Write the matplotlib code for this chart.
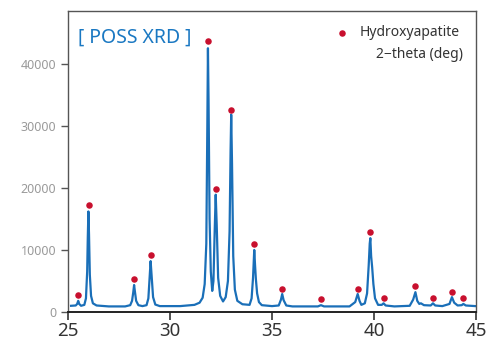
import matplotlib.pyplot as plt

plt.rcParams['font.family'] = ['Noto Sans', 'DejaVu Sans']

# XRD profile (2-theta in deg, intensity)
theta = [25.15, 25.38, 25.45, 25.50, 25.55, 25.64, 25.80, 25.88, 25.94, 25.97,
         26.00, 26.03, 26.07, 26.13, 26.22, 26.40, 27.00, 27.80, 28.05, 28.14,
         28.20, 28.24, 28.28, 28.34, 28.45, 28.65, 28.85, 28.94, 29.00, 29.05,
         29.10, 29.17, 29.28, 29.50, 30.50, 31.20, 31.45, 31.60, 31.70, 31.78,
         31.83, 31.86, 31.89, 31.94, 32.00, 32.07, 32.13, 32.19, 32.24, 32.29,
         32.36, 32.46, 32.60, 32.73, 32.84, 32.92, 32.97, 33.00, 33.04, 33.10,
         33.18, 33.30, 33.55, 33.90, 34.00, 34.07, 34.13, 34.17, 34.21, 34.27,
         34.36, 34.50, 35.00, 35.33, 35.44, 35.50, 35.57, 35.70, 36.00, 37.25,
         37.40, 37.55, 38.80, 39.08, 39.20, 39.29, 39.38, 39.55, 39.66, 39.74,
         39.79, 39.82, 39.86, 39.91, 39.97, 40.05, 40.20, 40.38, 40.47, 40.57,
         41.00, 41.75, 41.92, 42.03, 42.12, 42.22, 42.30, 42.45, 42.78, 42.89,
         43.00, 43.35, 43.70, 43.82, 43.93, 44.10, 44.30, 44.38, 44.50, 44.97]
intensity = [1000, 1050, 1300, 1800, 1300, 1000, 1150, 2200, 6500, 12000,
             16200, 12500, 6000, 2600, 1400, 1050, 900, 900, 1100, 1800,
             3200, 4350, 3300, 1800, 1100, 950, 1100, 2200, 5500, 8200,
             5800, 2400, 1200, 950, 950, 1150, 1500, 2300, 4500, 11000,
             30000, 42500, 34000, 15000, 6500, 3400, 5000, 13000, 18900, 14000,
             5500, 2600, 1700, 2400, 5000, 13000, 26000, 31800, 24000, 9000,
             3600, 1800, 1250, 1150, 2200, 5500, 10000, 7500, 5300, 3000,
             1600, 1100, 950, 1050, 2000, 2900, 1900, 1050, 900, 900,
             1100, 900, 900, 1600, 2900, 1800, 1150, 1400, 3000, 7500,
             11000, 11900, 9000, 7200, 4500, 2200, 1150, 1150, 1400, 1050,
             900, 1000, 2000, 3200, 1800, 1300, 1400, 1100, 1050, 1400,
             1050, 950, 1300, 2400, 1500, 1050, 1100, 1300, 1050, 950]

# Hydroxyapatite reference markers
hap_theta = [25.50, 26.01, 28.24, 29.05, 31.86, 32.24, 33.00, 34.13, 35.50,
             37.42, 39.20, 39.82, 40.47, 42.03, 42.89, 43.82, 44.38]
hap_int = [2750, 17250, 5350, 9150, 43650, 19800, 32600, 10950, 3700,
           2100, 3700, 12950, 2250, 4200, 2250, 3250, 2250]

fig = plt.figure(figsize=(5.01, 3.40), dpi=100)
ax = fig.add_axes([68/501, 28/340, 408/501, 301/340])

ax.plot(theta, intensity, color='#1a6fb8', lw=1.6, zorder=2)
ax.scatter(hap_theta, hap_int, s=22, color='#c8102e', zorder=3, linewidths=0,
           label='Hydroxyapatite')

ax.set_xlim(25, 45)
ax.set_ylim(0, 48500)
ax.set_xticks([25, 30, 35, 40, 45])
ax.set_yticks([0, 10000, 20000, 30000, 40000])
ax.tick_params(axis='x', labelsize=13.5, colors='#333333', length=6, width=1.2,
               direction='out', pad=1)
ax.tick_params(axis='y', labelsize=9, labelcolor='#9a9a9a', color='#555555',
               length=5, width=1, direction='out')

for s in ['left', 'top', 'right']:
    ax.spines[s].set_color('#555555')
    ax.spines[s].set_linewidth(1)
ax.spines['bottom'].set_color('#222222')
ax.spines['bottom'].set_linewidth(1.4)

ax.text(0.025, 0.91, '[ POSS XRD ]', transform=ax.transAxes, fontsize=14,
        color='#1a78c2', ha='left', va='center')

leg = ax.legend(loc='upper right', bbox_to_anchor=(0.985, 0.985), frameon=False,
                handlelength=0.8, handletextpad=0.9, fontsize=10,
                borderaxespad=0.3)
for t in leg.get_texts():
    t.set_color('#333333')
ax.text(0.968, 0.857, '2\u2212theta (deg)', transform=ax.transAxes,
        fontsize=10, color='#333333', ha='right', va='center')

fig.savefig('out.png', dpi=100)
